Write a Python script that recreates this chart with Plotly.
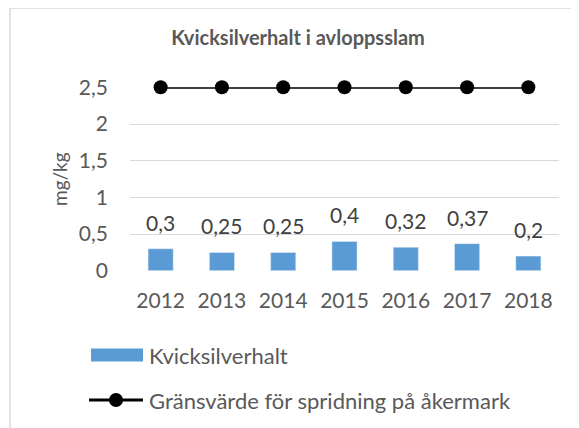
import plotly.graph_objects as go

W, H = 579, 428
OFF = 8  # page body margin of the browser

years = [2012, 2013, 2014, 2015, 2016, 2017, 2018]
year_labels = ["2012", "2013", "2014", "2015", "2016", "2017", "2018"]
kvicksilver = [0.3, 0.25, 0.25, 0.4, 0.32, 0.37, 0.2]
gransvarde = [2.5, 2.5, 2.5, 2.5, 2.5, 2.5, 2.5]
y_ticks = [0, 0.5, 1, 1.5, 2, 2.5]
y_ticklabels = ["0", "0,5", "1", "1,5", "2", "2,5"]

title_text = "Kvicksilverhalt i avloppsslam"
bar_name = "Kvicksilverhalt"
line_name = "Gränsvärde för spridning på åkermark"
y_title = "mg/kg"

FONT = "Lato"
GREY = "#595959"
BLUE = "#5B9BD5"


def px_x(p):
    return (p - OFF) / W


def px_y(p):
    return 1 - (p - OFF) / H


fig = go.Figure()
fig.add_trace(go.Bar(
    x=years, y=kvicksilver, name=bar_name, marker_color=BLUE,
    width=0.41, showlegend=False,
))
fig.add_trace(go.Scatter(
    x=years, y=gransvarde, name=line_name, mode="lines+markers",
    line=dict(color="black", width=3), marker=dict(color="black", size=14),
    cliponaxis=False, showlegend=False,
))

annotations = []
for yr, v in zip(years, kvicksilver):
    annotations.append(dict(
        x=yr, y=v, xref="x", yref="y", text=str(v).replace(".", ","),
        showarrow=False, yanchor="bottom", yshift=12,
        font=dict(family=FONT, size=21, color="#404040"),
    ))

annotations.append(dict(
    x=px_x(59), y=px_y(179), xref="paper", yref="paper", text=y_title,
    textangle=-90, showarrow=False, xanchor="center", yanchor="middle",
    font=dict(family=FONT, size=19, color=GREY),
))

annotations.append(dict(
    x=px_x(147), y=px_y(355), xref="paper", yref="paper", text=bar_name,
    showarrow=False, xanchor="left", yanchor="middle",
    font=dict(family=FONT, size=22, color=GREY),
))
annotations.append(dict(
    x=px_x(147), y=px_y(400), xref="paper", yref="paper", text=line_name,
    showarrow=False, xanchor="left", yanchor="middle",
    font=dict(family=FONT, size=22, color=GREY),
))

shapes = [
    dict(type="line", xref="paper", yref="paper", x0=px_x(10), x1=1,
         y0=px_y(8), y1=px_y(8), line=dict(color="#D9D9D9", width=1.5)),
    dict(type="line", xref="paper", yref="paper", x0=px_x(10), x1=px_x(10),
         y0=px_y(8), y1=0, line=dict(color="#D9D9D9", width=1.5)),
    dict(type="rect", xref="paper", yref="paper", x0=px_x(91), x1=px_x(143),
         y0=px_y(348.5), y1=px_y(361.5), fillcolor=BLUE, line=dict(width=0)),
    dict(type="line", xref="paper", yref="paper", x0=px_x(89), x1=px_x(143),
         y0=px_y(400), y1=px_y(400), line=dict(color="black", width=3)),
    dict(type="circle", xref="paper", yref="paper", x0=px_x(109), x1=px_x(123),
         y0=px_y(393), y1=px_y(407), fillcolor="black", line=dict(width=0)),
]

fig.update_layout(
    width=W, height=H, autosize=False,
    margin=dict(l=0, r=0, t=0, b=0),
    paper_bgcolor="white", plot_bgcolor="white",
    title=dict(text="<b>" + title_text + "</b>", x=px_x(298), y=px_y(38),
               xanchor="center", yanchor="middle",
               font=dict(family=FONT, size=20, color=GREY)),
    xaxis=dict(domain=[px_x(130), px_x(559)], range=[2011.5, 2018.5],
               tickvals=years, ticktext=year_labels,
               showgrid=False, showline=False, zeroline=False,
               ticks="", ticklabelstandoff=15, automargin=False,
               tickfont=dict(family=FONT, size=21, color=GREY)),
    yaxis=dict(domain=[px_y(270.8), px_y(87.3)], range=[0, 2.5],
               tickvals=y_ticks, ticktext=y_ticklabels,
               showgrid=True, gridcolor="#D9D9D9", gridwidth=1,
               zeroline=False, showline=False, ticks="",
               ticklabelstandoff=21, automargin=False,
               tickfont=dict(family=FONT, size=21, color=GREY)),
    annotations=annotations, shapes=shapes,
    showlegend=False,
)

fig.write_html("out.html")
